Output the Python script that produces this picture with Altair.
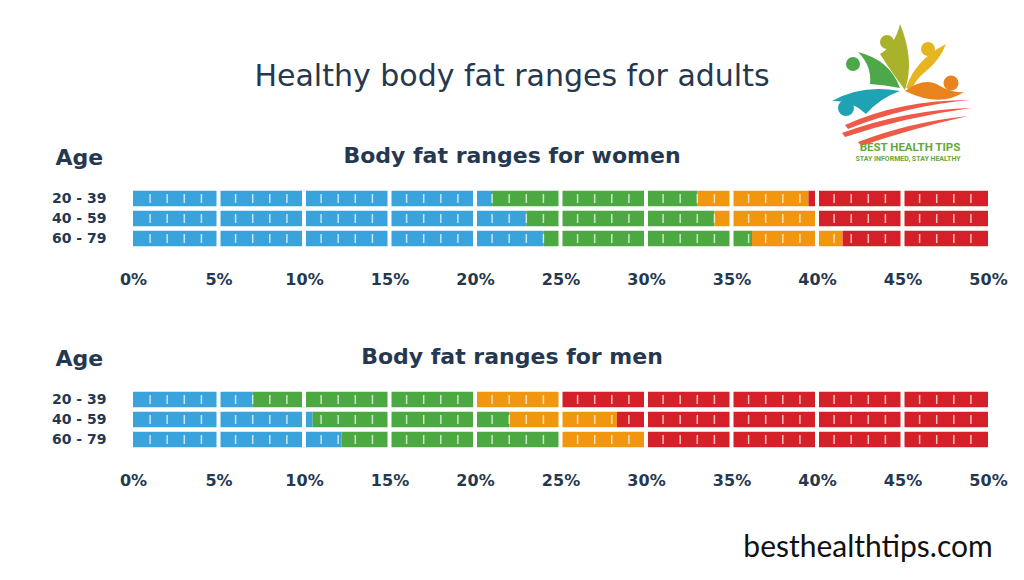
import altair as alt
import pandas as pd

# ---------------- data ----------------
ages = ["20 - 39", "40 - 59", "60 - 79"]
categories = ["Underfat", "Healthy", "Overweight", "Obese"]
cat_colors = ["#3AA3DC", "#4CA841", "#F0960F", "#D42029"]
# boundaries (%) between blue|green, green|orange, orange|red for each age group
women_bounds = [[21, 33, 39.5], [23, 34, 40], [24, 36.2, 41.5]]
men_bounds = [[7, 20, 25], [10.5, 22, 28.3], [12.2, 25, 30]]
axis_values = [0, 5, 10, 15, 20, 25, 30, 35, 40, 45, 50]
x_max = 50

NAVY = "#26384F"
FONT = "DejaVu Sans"


def segments(bounds):
    rows = []
    for age, b in zip(ages, bounds):
        starts = [0] + b
        ends = b + [x_max]
        for cat, s, e in zip(categories, starts, ends):
            rows.append({"age": age, "start": s, "end": e, "cat": cat})
    return pd.DataFrame(rows)


minor_df = pd.DataFrame(
    [{"age": a, "start": p} for a in ages for p in range(1, x_max) if p % 5]
)
major_df = pd.DataFrame({"start": [p for p in range(5, x_max, 5)]})

xscale = alt.Scale(domain=[0, x_max], nice=False, zero=True)
yscale = alt.Scale(paddingInner=0.22, paddingOuter=0.11)

one = pd.DataFrame({"k": [0]})
OX = 133  # plot-area left on the page
OY1, OY2 = 188.5, 388.5  # plot-area tops on the page


def text_layer(txt, px, py, oy, **kw):
    return alt.Chart(one).mark_text(text=txt, **kw).encode(
        x=alt.value(px - OX), y=alt.value(py - oy)
    )


def panel(df, title, oy, extra_layers):
    bars = alt.Chart(df).mark_bar().encode(
        x=alt.X(
            "start:Q",
            scale=xscale,
            title=None,
            axis=alt.Axis(
                values=axis_values,
                labelExpr="datum.value + '%'",
                labelFlush=False,
                domain=False,
                ticks=False,
                grid=False,
                labelPadding=23,
                labelFontSize=16,
                labelFontWeight="bold",
                labelColor=NAVY,
                labelFont=FONT,
                title=None,
            ),
        ),
        x2="end:Q",
        y=alt.Y(
            "age:N",
            sort=ages,
            scale=yscale,
            axis=alt.Axis(
                title="Age",
                titleAngle=0,
                titleAlign="left",
                titleBaseline="middle",
                titleX=-78,
                titleY=-31,
                titleFontSize=22,
                titleFontWeight="bold",
                titleColor=NAVY,
                titleFont=FONT,
                labelFontSize=14,
                labelFontWeight="bold",
                labelColor=NAVY,
                labelFont=FONT,
                labelPadding=27,
                domain=False,
                ticks=False,
                grid=False,
            ),
        ),
        color=alt.Color(
            "cat:N", scale=alt.Scale(domain=categories, range=cat_colors), legend=None
        ),
    )
    minor = alt.Chart(minor_df).mark_tick(
        color="white", thickness=1.5, size=9, opacity=0.7
    ).encode(
        x=alt.X("start:Q", title=None),
        y=alt.Y("age:N", sort=ages),
    )
    major = alt.Chart(major_df).mark_rule(color="white", strokeWidth=4).encode(
        x=alt.X("start:Q", title=None)
    )
    head = text_layer(title, 512, oy - 33, oy, fontSize=22, fontWeight="bold",
                      font=FONT, color=NAVY, align="center", baseline="middle")
    return alt.layer(bars, minor, major, head, *extra_layers).properties(
        width=855, height=60
    )


# ---------------- decorations ----------------
# logo shapes (page coordinates, converted to unit symbol paths)
LCX, LCY, U = 905, 80, 80


def to_unit(path):
    res = []
    k = 0
    for t in path.split():
        if t.isalpha():
            res.append(t)
        else:
            v = float(t)
            if k % 2 == 0:
                res.append(f"{(v - LCX) / U:.4f}")
            else:
                res.append(f"{(v - LCY) / U:.4f}")
            k += 1
    return " ".join(res)


logo_shapes = [
    ("M 832 101 Q 862 84 900 91 Q 880 98 866 114 Q 852 100 832 101 Z", "#1FA2B4"),
    ("M 858 52 Q 890 60 900 88 Q 885 85 870 84 Q 872 66 858 52 Z", "#4DA84A"),
    ("M 880 54 Q 895 45 900 24 Q 915 60 905 90 Q 890 70 880 54 Z", "#A9B22A"),
    ("M 906 88 Q 915 60 946 44 Q 940 60 925 72 Q 915 80 912 90 Z", "#E6B51F"),
    ("M 905 91 Q 925 76 940 86 Q 952 93 964 92 Q 940 108 905 91 Z", "#E8831D"),
    ("M 845 125 Q 900 100 970 100 Q 905 106 848 129 Z", "#EF5A48"),
    ("M 842 133 Q 905 110 971 108 Q 905 117 845 137 Z", "#EF5A48"),
    ("M 858 142 Q 910 122 968 116 Q 910 129 861 146 Z", "#EF5A48"),
]
logo_heads = [
    (846, 108, 8, "#1FA2B4"),
    (853, 64, 7, "#4DA84A"),
    (887, 42, 7, "#A9B22A"),
    (928, 49, 7, "#E6B51F"),
    (951, 83, 7.5, "#E8831D"),
]

deco1 = [
    text_layer(
        "Healthy body fat ranges for adults", 512, 77, OY1,
        fontSize=30, font=FONT, color=NAVY, align="center", baseline="middle",
    ),
]
for p, c in logo_shapes:
    deco1.append(
        alt.Chart(one).mark_point(
            shape=to_unit(p), size=4 * U * U, filled=True, fill=c, opacity=1, strokeWidth=0
        ).encode(x=alt.value(LCX - OX), y=alt.value(LCY - OY1))
    )
for hx, hy, r, c in logo_heads:
    deco1.append(
        alt.Chart(one).mark_point(
            shape="circle", size=(2 * r) ** 2, filled=True, fill=c, opacity=1, strokeWidth=0
        ).encode(x=alt.value(hx - OX), y=alt.value(hy - OY1))
    )
deco1.append(
    text_layer("BEST HEALTH TIPS", 910, 148, OY1, fontSize=11.5, fontWeight="bold",
               font="Roboto", color="#64A83A", align="center", baseline="middle")
)
deco1.append(
    text_layer("STAY INFORMED, STAY HEALTHY", 908, 158.5, OY1, fontSize=7,
               fontWeight="bold", font="Roboto", color="#64A83A", align="center",
               baseline="middle")
)

deco2 = [
    text_layer("besthealthtips.com", 868, 547, OY2, fontSize=30, font="Lato",
               color="#111111", align="center", baseline="middle"),
]

women = panel(segments(women_bounds), "Body fat ranges for women", OY1, deco1)
men = panel(segments(men_bounds), "Body fat ranges for men", OY2, deco2)

chart = (
    alt.vconcat(women, men, spacing=58)
    .properties(
        padding={"left": 43, "top": 15.5, "right": 5, "bottom": 5},
        background="white",
    )
    .configure_view(stroke=None)
)

chart.save("out.html", embed_options={"renderer": "svg", "actions": False})
